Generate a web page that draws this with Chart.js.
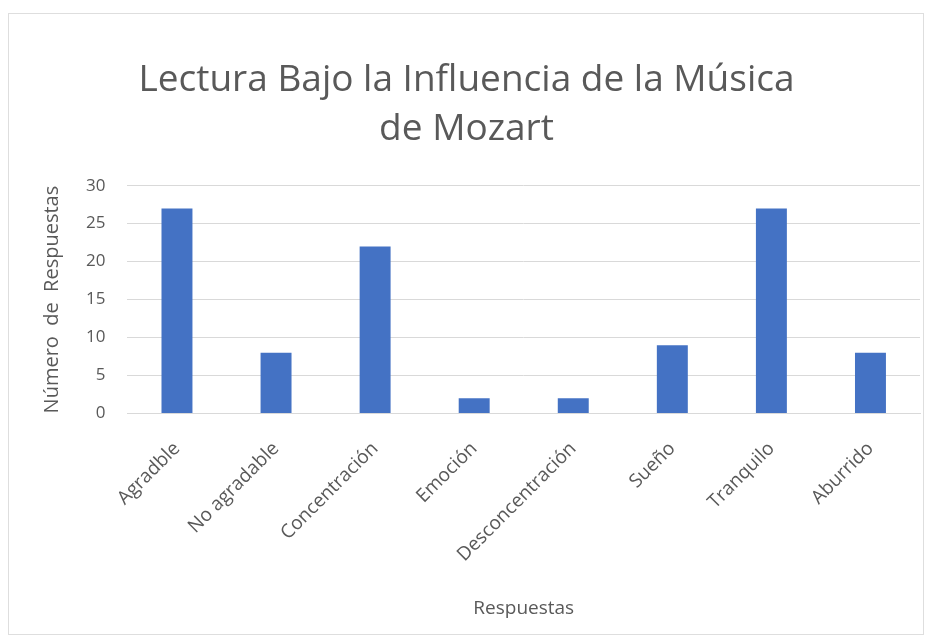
<!DOCTYPE html>
<html>
<head>
<meta charset="utf-8">
<script src="https://cdn.jsdelivr.net/npm/chart.js@4.4.1/dist/chart.umd.min.js"></script>
<style>
  body { margin: 0; background: #ffffff; }
  #marco {
    position: absolute; left: 8px; top: 13px;
    width: 914px; height: 620px;
    border: 1px solid #dedede; background: #ffffff;
  }
</style>
</head>
<body>
<div id="marco"><canvas id="grafico"></canvas></div>
<script>
// datos del grafico
var categorias = ['Agradble', 'No agradable', 'Concentración', 'Emoción', 'Desconcentración', 'Sueño', 'Tranquilo', 'Aburrido'];
var respuestas = [27, 8, 22, 2, 2, 9, 27, 8];
var ticksY = [0, 5, 10, 15, 20, 25, 30];
var titulo = ['Lectura Bajo la Influencia de la Música', 'de Mozart'];

var gris = '#595959';
var fuente = "'Open Sans', 'Noto Sans', sans-serif";

document.addEventListener('DOMContentLoaded', function() {
    var ctx = document.getElementById('grafico').getContext('2d');
    var grafico = new Chart(ctx, {
        type: 'bar',
        data: {
            labels: categorias,
            datasets: [{
                label: 'Número de Respuestas',
                data: respuestas,
                backgroundColor: '#4472c4',
                borderWidth: 0,
                barPercentage: 0.625,
                categoryPercentage: 0.5
            }]
        },
        options: {
            responsive: true,
            maintainAspectRatio: false,
            animation: false,
            layout: {
                padding: { top: 42, right: 3, bottom: 14, left: 4 }
            },
            plugins: {
                legend: { display: false },
                tooltip: { enabled: false },
                title: {
                    display: true,
                    text: titulo,
                    color: gris,
                    font: { family: fuente, size: 37, weight: 'normal', lineHeight: 1.32 },
                    padding: { top: 0, bottom: 32 }
                }
            },
            scales: {
                x: {
                    grid: { display: false },
                    border: { color: '#d9d9d9' },
                    ticks: {
                        color: gris,
                        font: { family: fuente, size: 19 },
                        maxRotation: 45,
                        minRotation: 45,
                        padding: 16
                    },
                    title: {
                        display: true,
                        text: 'Respuestas',
                        color: gris,
                        font: { family: fuente, size: 19 },
                        padding: { top: 15, bottom: 0 }
                    }
                },
                y: {
                    min: 0,
                    max: 30,
                    afterBuildTicks: function(eje) {
                        eje.ticks = ticksY.map(function(v) { return { value: v }; });
                    },
                    grid: { color: '#d9d9d9', drawTicks: false },
                    border: { display: false },
                    ticks: {
                        color: gris,
                        font: { family: fuente, size: 17 },
                        padding: 22
                    },
                    title: {
                        display: true,
                        text: 'Número  de  Respuestas',
                        color: gris,
                        font: { family: fuente, size: 20 },
                        padding: { top: 27, bottom: 0 }
                    }
                }
            }
        }
    });
});
</script>
</body>
</html>
